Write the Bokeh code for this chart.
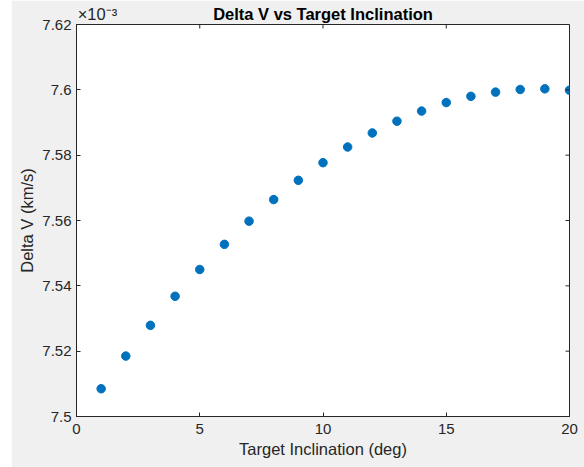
import math
from bokeh.plotting import figure
from bokeh.embed import file_html
from bokeh.resources import INLINE
from bokeh.models import (Range1d, FixedTicker, CustomJSTickFormatter, ColumnDataSource, LinearAxis)

# Data (Delta V in units of 1e-3 km/s, as shown with the x10^-3 exponent)
inclination_deg = [1, 2, 3, 4, 5, 6, 7, 8, 9, 10, 11, 12, 13, 14, 15, 16, 17, 18, 19, 20]
delta_v_e3 = [7.5085, 7.5185, 7.5279, 7.5368, 7.5450, 7.5527, 7.5598, 7.5664, 7.5723, 7.5777,
              7.5825, 7.5868, 7.5904, 7.5935, 7.5961, 7.5980, 7.5993, 7.6001, 7.6003, 7.5999]
x_ticks = [0, 5, 10, 15, 20]
y_ticks = [7.5, 7.52, 7.54, 7.56, 7.58, 7.6, 7.62]
title_text = "Delta V vs Target Inclination"
exponent_text = "\u00d710\u207b\u00b3"   # x10^-3
EXP_LABEL_X = 0.85   # where the exponent text is centred along the top edge

AX = "#262626"
BG = "#f0f0f0"
FONT = "Liberation Sans"

x0, x1 = x_ticks[0], x_ticks[-1]
y0, y1 = y_ticks[0], y_ticks[-1]

p = figure(width=573, height=467, output_backend="svg", toolbar_location=None,
           x_range=Range1d(x0, x1), y_range=Range1d(y0, y1),
           min_border_left=65, min_border_right=15, min_border_top=24, min_border_bottom=51)
p.margin = (0, 0, 0, 11)
p.border_fill_color = BG
p.background_fill_color = "white"
p.outline_line_color = AX
p.outline_line_width = 1
p.grid.visible = False

src = ColumnDataSource(dict(x=inclination_deg, y=delta_v_e3))
p.scatter("x", "y", source=src, size=8.5, fill_color="#0072BD", line_color="#0072BD")

# box ticks on top and right (inward, 4 px)
p.ray(x=x_ticks, y=[y1] * len(x_ticks), length=4, length_units="screen",
      angle=-math.pi / 2, line_color=AX, line_width=1)
p.ray(x=[x1] * len(y_ticks), y=y_ticks, length=4, length_units="screen",
      angle=math.pi, line_color=AX, line_width=1)

fmt = CustomJSTickFormatter(code="return String(Number(tick.toFixed(2)));")

for ax in [p.xaxis[0], p.yaxis[0]]:
    ax.axis_line_color = AX
    ax.major_tick_line_color = AX
    ax.major_tick_in = 4
    ax.major_tick_out = 0
    ax.minor_tick_line_color = None
    ax.major_label_text_font = FONT
    ax.major_label_text_font_size = "15px"
    ax.major_label_text_color = AX
    ax.axis_label_text_font = FONT
    ax.axis_label_text_font_size = "16.5px"
    ax.axis_label_text_font_style = "normal"
    ax.axis_label_text_color = AX

p.xaxis[0].ticker = FixedTicker(ticks=x_ticks)
p.yaxis[0].ticker = FixedTicker(ticks=y_ticks)
p.yaxis[0].formatter = fmt
p.xaxis[0].axis_label = "Target Inclination (deg)"
p.yaxis[0].axis_label = "Delta V (km/s)"
p.xaxis[0].major_label_standoff = 7
p.xaxis[0].axis_label_standoff = 3
p.yaxis[0].major_label_standoff = 5
p.yaxis[0].axis_label_standoff = 3

# top axis: carries the exponent (as a tick label) and the title (as its axis label)
top = LinearAxis(ticker=FixedTicker(ticks=[EXP_LABEL_X]),
                 formatter=CustomJSTickFormatter(code="return '%s';" % exponent_text),
                 axis_line_color=None, major_tick_line_color=None, minor_tick_line_color=None,
                 major_tick_in=0, major_tick_out=0, major_label_standoff=2,
                 major_label_text_font=FONT, major_label_text_font_size="16.5px",
                 major_label_text_color=AX,
                 axis_label=title_text, axis_label_standoff=-21,
                 axis_label_text_font=FONT, axis_label_text_font_size="16.5px",
                 axis_label_text_font_style="bold", axis_label_text_color="black")
p.add_layout(top, "above")

open("out.html", "w").write(file_html(p, INLINE))
